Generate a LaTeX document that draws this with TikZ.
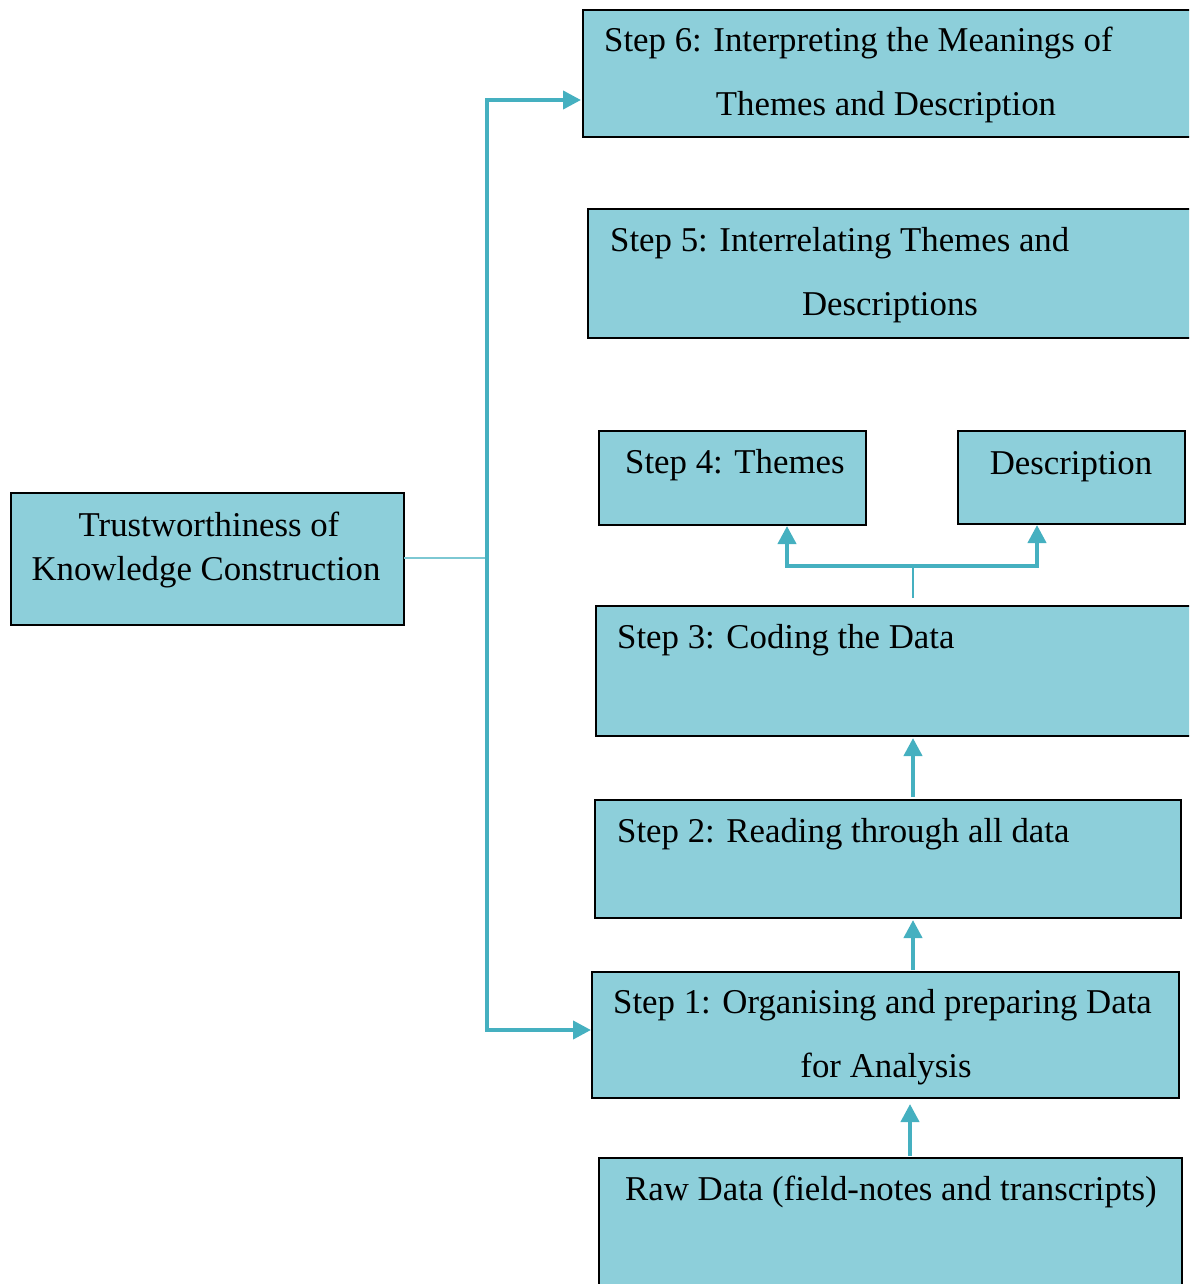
\documentclass[tikz,border=0pt]{standalone}
\usepackage{fontspec}
\setmainfont{Liberation Serif}
\usetikzlibrary{arrows.meta}
\definecolor{boxfill}{HTML}{8DCFDA}
\definecolor{arrowc}{HTML}{45B0C0}
\begin{document}
\begin{tikzpicture}[x=1pt,y=-1pt,
  box/.style={draw=black,line width=2pt,fill=boxfill},
  txt/.style={inner sep=0pt,font=\fontsize{34.8}{40}\selectfont},
  conn/.style={draw=arrowc,line width=4pt},
  thinconn/.style={draw=arrowc!70,line width=2pt},
  tip/.style={-{Triangle[length=18pt,width=18pt]}}]
\useasboundingbox (0,0) rectangle (1189,1284);
\clip (0,0) rectangle (1189,1284);
% boxes
\path[box] (583,10) rectangle (1200,137);
\path[box] (588,209) rectangle (1200,338);
\path[box] (599,431) rectangle (866,525);
\path[box] (958,431) rectangle (1185,524);
\path[box] (596,606) rectangle (1200,736);
\path[box] (595,800) rectangle (1181,918);
\path[box] (592,972) rectangle (1179,1098);
\path[box] (599,1158) rectangle (1182,1300);
\path[box] (11,493) rectangle (404,625);
% box anchor nodes
\node[inner sep=0pt] (s6) at (581,100) {};
\node[inner sep=0pt] (s1) at (591,1030) {};
\node[inner sep=0pt] (s4b) at (787,526) {};
\node[inner sep=0pt] (db) at (1037,525) {};
\node[inner sep=0pt] (s3t) at (913,598) {};
\node[inner sep=0pt] (s3b) at (913,738) {};
\node[inner sep=0pt] (s2t) at (913,797) {};
\node[inner sep=0pt] (s2b) at (913,920) {};
\node[inner sep=0pt] (s1t) at (913,970) {};
\node[inner sep=0pt] (s1b) at (910,1104) {};
\node[inner sep=0pt] (rt) at (910,1156) {};
\node[inner sep=0pt] (tr) at (404,558) {};
\coordinate (vt) at (487,100);
\coordinate (vb) at (487,1030);
\coordinate (vm) at (487,558);
\coordinate (bl) at (787,566);
\coordinate (br) at (1037,566);
\coordinate (bm) at (913,566);
% texts
\node[txt,anchor=base west] (t6a) at (604,52) {Step 6: Interpreting the Meanings of};
\node[txt,anchor=base] (t6b) at (886,116) {Themes and Description};
\node[txt,anchor=base west] (t5a) at (610,251) {Step 5: Interrelating Themes and};
\node[txt,anchor=base] (t5b) at (890,315) {Descriptions};
\node[txt,anchor=base west] (t4) at (625,473) {Step 4: Themes};
\node[txt,anchor=base] (td) at (1071,474) {Description};
\node[txt,anchor=base west] (t3) at (617,648) {Step 3: Coding the Data};
\node[txt,anchor=base west] (t2) at (617,842) {Step 2: Reading through all data};
\node[txt,anchor=base west] (t1a) at (613,1013) {Step 1: Organising and preparing Data};
\node[txt,anchor=base] (t1b) at (886,1077) {for Analysis};
\node[txt,anchor=base west] (tr0) at (625,1200) {Raw Data (field-notes and transcripts)};
\node[txt,anchor=base] (tt1) at (209,536) {Trustworthiness of};
\node[txt,anchor=base] (tt2) at (206,580) {Knowledge Construction};
% connectors
\draw[thinconn] (tr.center) -- (vm);
\draw[conn,tip] (vb) -- (vt) -- (s6.center);
\draw[conn,tip] (vt) -- (vb) -- (s1.center);
\draw[draw=arrowc,line width=1.5pt] (s3t.center) -- (bm);
\draw[conn,tip] (bm) -- (bl) -- (s4b.center);
\draw[conn,tip] (bm) -- (br) -- (db.center);
\draw[conn,tip] (s2t.center) -- (s3b.center);
\draw[conn,tip] (s1t.center) -- (s2b.center);
\draw[conn,tip] (rt.center) -- (s1b.center);
\end{tikzpicture}
\end{document}
